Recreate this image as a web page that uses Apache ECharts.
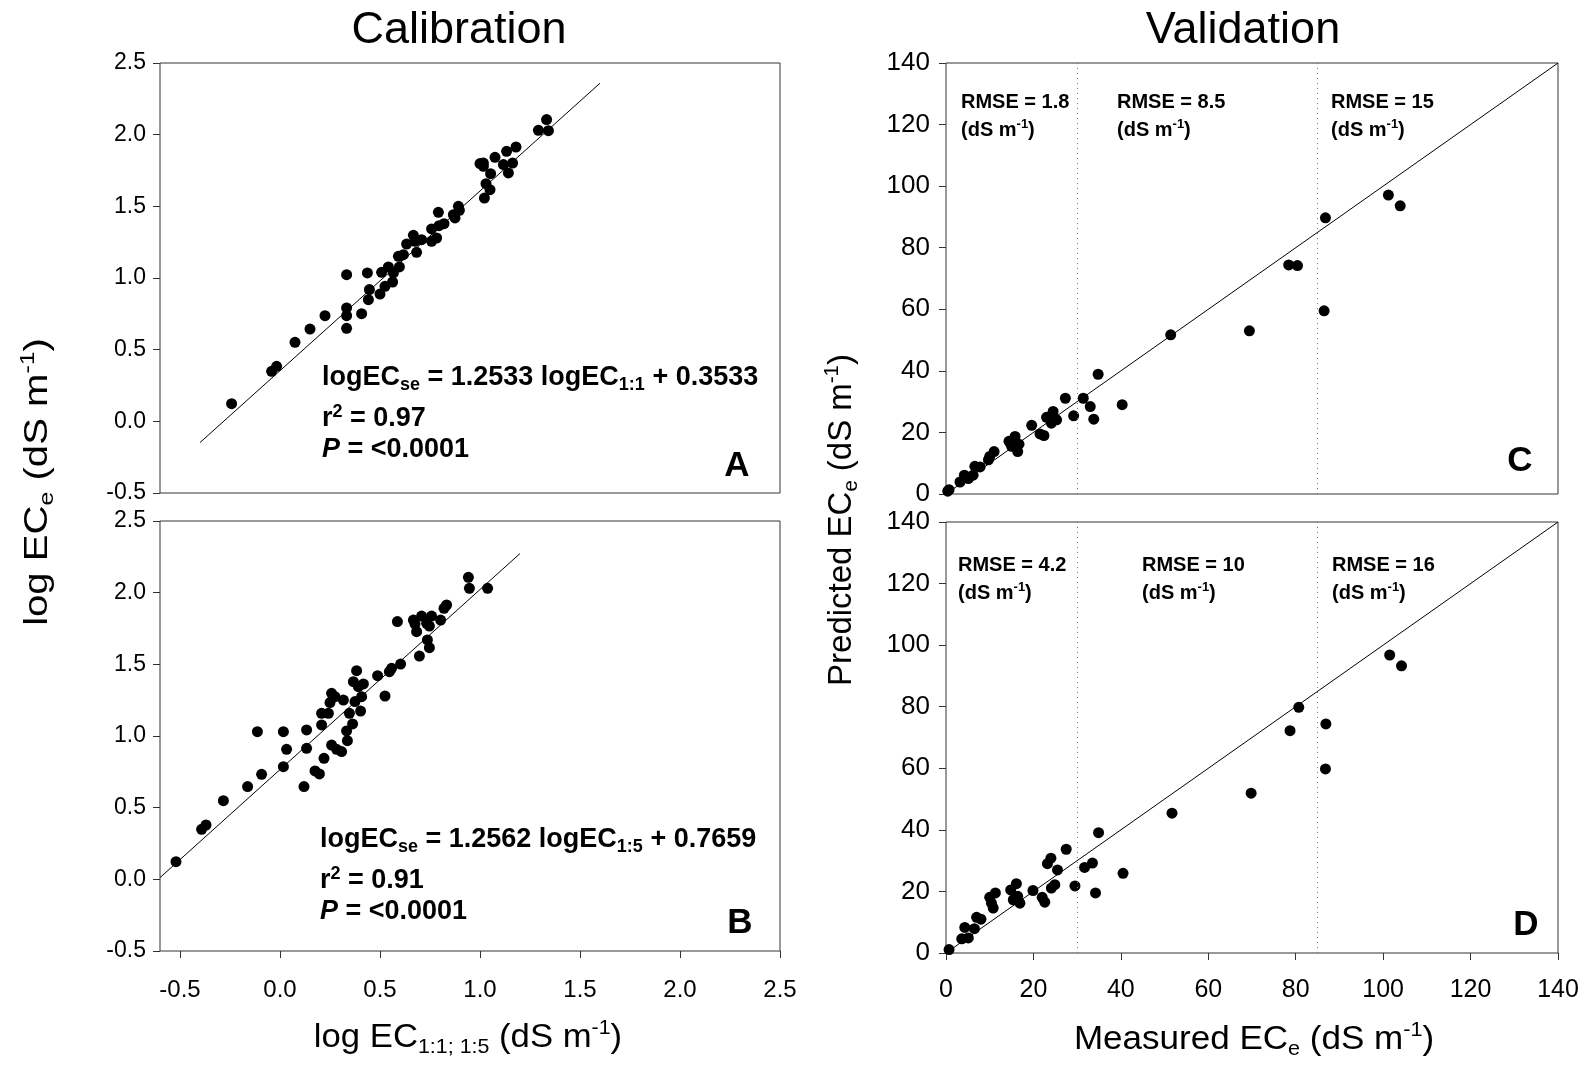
<!DOCTYPE html>
<html>
<head>
<meta charset="utf-8">
<script src="https://cdn.jsdelivr.net/npm/echarts@6/dist/echarts.min.js"></script>
<style>
html,body{margin:0;padding:0;background:#fff;}
#chart{width:1587px;height:1066px;}
</style>
</head>
<body>
<div id="chart"></div>
<script>
// ---- Panel A (calibration, 1:1) ----
var calAX = [-0.242,-0.042,-0.017,0.075,0.150,0.225,0.333,0.333,0.333,0.333,0.408,0.437,0.447,0.442,0.500,0.508,0.525,0.542,0.563,0.567,0.597,0.592,0.617,0.633,0.667,0.683,0.675,0.708,0.758,0.758,0.783,0.792,0.795,0.820,0.867,0.875,0.892,0.897,1.000,1.017,1.017,1.030,1.050,1.022,1.053,1.075,1.117,1.133,1.142,1.163,1.180,1.292,1.333,1.342];
var calAY = [0.123,0.349,0.384,0.551,0.644,0.737,1.023,0.791,0.737,0.649,0.751,1.035,0.919,0.849,0.888,1.040,0.942,1.077,0.972,1.035,1.077,1.151,1.163,1.237,1.298,1.179,1.256,1.267,1.256,1.342,1.279,1.458,1.365,1.379,1.442,1.419,1.500,1.472,1.798,1.802,1.779,1.658,1.616,1.558,1.728,1.842,1.791,1.884,1.733,1.802,1.914,2.030,2.105,2.028];
var fitAX = [-0.4, 1.6];
var fitAY = [-0.148, 2.359];

// ---- Panel B (calibration, 1:5) ----
var calBX = [-0.520,-0.392,-0.370,-0.283,-0.162,-0.113,-0.092,0.017,0.017,0.033,0.120,0.133,0.133,0.175,0.197,0.208,0.220,0.208,0.242,0.250,0.258,0.258,0.283,0.308,0.275,0.317,0.333,0.337,0.347,0.363,0.375,0.367,0.383,0.392,0.408,0.403,0.417,0.488,0.525,0.547,0.558,0.603,0.587,0.667,0.675,0.683,0.697,0.708,0.733,0.747,0.737,0.747,0.758,0.803,0.820,0.833,0.942,0.947,1.038];
var calBY = [0.123,0.349,0.379,0.549,0.647,1.030,0.733,1.030,0.786,0.907,0.647,1.042,0.914,0.756,0.735,1.077,0.844,1.158,1.158,1.233,1.298,0.937,0.907,0.891,1.274,1.251,1.035,0.967,1.158,1.084,1.240,1.379,1.456,1.344,1.274,1.174,1.363,1.421,1.279,1.449,1.472,1.502,1.798,1.809,1.781,1.728,1.558,1.837,1.786,1.767,1.670,1.616,1.837,1.809,1.891,1.914,2.107,2.030,2.030];
var fitBX = [-0.6, 1.2];
var fitBY = [0.012, 2.273];

// ---- Panel C (validation, 1:1) ----
var valCX = [0.4,0.7,3.2,4.2,5.1,6.2,6.6,7.8,9.7,10.0,11.0,14.4,15.8,15.0,16.4,16.7,19.6,21.5,22.4,23.0,24.1,24.5,25.3,27.3,29.2,31.4,33.0,33.8,34.8,40.3,51.4,69.4,78.4,80.4,86.8,86.5,101.2,103.9];
var valCY = [0.9,1.4,3.9,6.1,5.0,6.1,9.0,8.8,11.1,12.2,13.8,17.1,18.7,15.5,13.8,16.2,22.3,19.5,19.0,24.9,23.0,26.8,24.1,31.1,25.4,31.1,28.4,24.3,38.9,29.0,51.7,53.0,74.4,74.2,89.7,59.5,97.1,93.6];

// ---- Panel D (validation, 1:5) ----
var valDX = [0.7,3.6,5.1,4.3,6.5,7.0,8.0,10.0,10.4,10.8,11.3,14.8,16.1,15.4,16.4,16.9,19.9,22.0,22.6,23.2,24.0,24.1,24.9,25.5,27.5,29.5,31.7,33.5,34.2,34.9,40.5,51.7,69.8,78.7,80.7,86.9,86.8,101.5,104.2];
var valDY = [1.1,4.6,4.9,8.3,7.9,11.6,11.0,18.1,16.2,14.6,19.5,20.5,22.5,17.3,18.4,16.2,20.3,18.1,16.5,29.0,30.8,21.1,22.2,27.0,33.7,21.8,27.8,29.2,19.5,39.1,25.9,45.4,51.9,72.2,79.8,74.4,59.8,96.8,93.3];

var oneToOne = [0, 140];
var rangeBreaks = [30, 85];
var logTicks = [-0.5, 0.0, 0.5, 1.0, 1.5, 2.0, 2.5];
var rmseC = ['1.8', '8.5', '15'];
var rmseD = ['4.2', '10', '16'];

function zip(a, b) { return a.map(function (v, i) { return [v, b[i]]; }); }

var FONT = "'Liberation Sans', Arial, Helvetica, sans-serif";
var chart = echarts.init(document.getElementById('chart'), null, {renderer: 'canvas'});

function grid(l, t, w, h) {
  return {left: l, top: t, width: w, height: h, show: true, borderColor: '#333', borderWidth: 1, backgroundColor: 'transparent', containLabel: false};
}
var tickStyle = {show: true, inside: false, length: 7, lineStyle: {color: '#333', width: 1}};
var noLine = {show: false, onZero: false};
function logX(idx, labels) {
  return {type: 'value', gridIndex: idx, min: -0.6, max: 2.5, position: 'bottom',
    axisLine: noLine, splitLine: {show: false},
    axisTick: labels ? Object.assign({customValues: logTicks}, tickStyle) : {show: false},
    axisLabel: labels ? {show: true, customValues: logTicks, formatter: function (v) { return v.toFixed(1); }, fontFamily: FONT, fontSize: 24, color: '#000', margin: 27} : {show: false}};
}
function logY(idx) {
  return {type: 'value', gridIndex: idx, min: -0.5, max: 2.5, interval: 0.5, position: 'left',
    axisLine: noLine, splitLine: {show: false}, axisTick: tickStyle,
    axisLabel: {formatter: function (v) { return v.toFixed(1); }, fontFamily: FONT, fontSize: 23, color: '#000', margin: 14}};
}
function linX(idx, labels) {
  return {type: 'value', gridIndex: idx, min: 0, max: 140, interval: 20, position: 'bottom',
    axisLine: noLine, splitLine: {show: false},
    axisTick: labels ? tickStyle : {show: false},
    axisLabel: labels ? {fontFamily: FONT, fontSize: 25, color: '#000', margin: 25} : {show: false}};
}
function linY(idx) {
  return {type: 'value', gridIndex: idx, min: 0, max: 140, interval: 20, position: 'left',
    axisLine: noLine, splitLine: {show: false}, axisTick: tickStyle,
    axisLabel: {fontFamily: FONT, fontSize: 26, color: '#000', margin: 16}};
}
function scatter(idx, xs, ys, withBreaks) {
  var s = {type: 'scatter', xAxisIndex: idx, yAxisIndex: idx, data: zip(xs, ys), symbolSize: 11,
    itemStyle: {color: '#000', opacity: 1}, z: 3, silent: true};
  if (withBreaks) {
    s.markLine = {silent: true, symbol: ['none', 'none'], label: {show: false}, animation: false,
      lineStyle: {type: [1, 4], color: '#777', width: 1},
      data: rangeBreaks.map(function (v) { return {xAxis: v}; })};
  }
  return s;
}
function line(idx, xs, ys) {
  return {type: 'line', xAxisIndex: idx, yAxisIndex: idx, data: zip(xs, ys), symbol: 'none',
    lineStyle: {color: '#000', width: 1}, z: 2, silent: true};
}

var mainRich = {
  b: {fontFamily: FONT, fontSize: 27, fontWeight: 'bold', lineHeight: 32, fill: '#000', color: '#000'},
  i: {fontFamily: FONT, fontSize: 27, fontWeight: 'bold', fontStyle: 'italic', lineHeight: 32, fill: '#000', color: '#000'},
  s: {fontFamily: FONT, fontSize: 18, fontWeight: 'bold', lineHeight: 18, verticalAlign: 'bottom', fill: '#000', color: '#000'},
  p: {fontFamily: FONT, fontSize: 18, fontWeight: 'bold', lineHeight: 18, verticalAlign: 'top', fill: '#000', color: '#000'}
};
var rmseRich = {
  b: {fontFamily: FONT, fontSize: 20, fontWeight: 'bold', lineHeight: 24, fill: '#000', color: '#000'},
  p: {fontFamily: FONT, fontSize: 13, fontWeight: 'bold', lineHeight: 13, verticalAlign: 'top', fill: '#000', color: '#000'}
};
var axRich = {
  n: {fontFamily: FONT, fontSize: 34, lineHeight: 40, fill: '#000', color: '#000'},
  s: {fontFamily: FONT, fontSize: 21, lineHeight: 21, verticalAlign: 'bottom', fill: '#000', color: '#000'},
  p: {fontFamily: FONT, fontSize: 21, lineHeight: 21, verticalAlign: 'top', fill: '#000', color: '#000'}
};

function txt(x, y, text, rich, align, extra) {
  var el = {type: 'text', x: x, y: y, silent: true, z: 10,
    style: {text: text, rich: rich, fill: '#000', font: '20px ' + FONT,
      align: align || 'left', verticalAlign: 'middle', textAlign: align || 'left', textVerticalAlign: 'middle'}};
  if (extra) { for (var k in extra) { el[k] = extra[k]; } }
  return el;
}
function plain(x, y, text, size, weight, align) {
  return {type: 'text', x: x, y: y, silent: true, z: 10,
    style: {text: text, fill: '#000', font: (weight || 'normal') + ' ' + size + 'px ' + FONT,
      align: align || 'center', verticalAlign: 'middle', textAlign: align || 'center', textVerticalAlign: 'middle'}};
}

var graphics = [
  plain(459, 31, 'Calibration', 45, 'normal'),
  plain(1243, 31, 'Validation', 45, 'normal'),
  // equations panel A
  txt(322, 378, '{b|logEC}{s|se}{b| = 1.2533 logEC}{s|1:1}{b| + 0.3533}', mainRich),
  txt(322, 419, '{b|r}{p|2}{b| = 0.97}', mainRich),
  txt(322, 450, '{i|P}{b| = <0.0001}', mainRich),
  // equations panel B
  txt(320, 840, '{b|logEC}{s|se}{b| = 1.2562 logEC}{s|1:5}{b| + 0.7659}', mainRich),
  txt(320, 881, '{b|r}{p|2}{b| = 0.91}', mainRich),
  txt(320, 912, '{i|P}{b| = <0.0001}', mainRich),
  // panel letters
  plain(737, 466, 'A', 35, 'bold'),
  plain(740, 923, 'B', 35, 'bold'),
  plain(1520, 461, 'C', 35, 'bold'),
  plain(1526, 925, 'D', 35, 'bold'),
  // RMSE labels C
  txt(961, 102, '{b|RMSE = ' + rmseC[0] + '}', rmseRich),
  txt(961, 130, '{b|(dS m}{p|-1}{b|)}', rmseRich),
  txt(1117, 102, '{b|RMSE = ' + rmseC[1] + '}', rmseRich),
  txt(1117, 130, '{b|(dS m}{p|-1}{b|)}', rmseRich),
  txt(1331, 102, '{b|RMSE = ' + rmseC[2] + '}', rmseRich),
  txt(1331, 130, '{b|(dS m}{p|-1}{b|)}', rmseRich),
  // RMSE labels D
  txt(958, 565, '{b|RMSE = ' + rmseD[0] + '}', rmseRich),
  txt(958, 593, '{b|(dS m}{p|-1}{b|)}', rmseRich),
  txt(1142, 565, '{b|RMSE = ' + rmseD[1] + '}', rmseRich),
  txt(1142, 593, '{b|(dS m}{p|-1}{b|)}', rmseRich),
  txt(1332, 565, '{b|RMSE = ' + rmseD[2] + '}', rmseRich),
  txt(1332, 593, '{b|(dS m}{p|-1}{b|)}', rmseRich),
  // axis titles
  txt(38, 482, '{n|log EC}{s|e}{n| (dS m}{p|-1}{n|)}', axRich, 'center', {rotation: Math.PI / 2, scaleX: 1.18}),
  txt(468, 1038, '{n|log EC}{s|1:1; 1:5}{n| (dS m}{p|-1}{n|)}', axRich, 'center', {scaleX: 1.02}),
  txt(842, 520, '{n|Predicted EC}{s|e}{n| (dS m}{p|-1}{n|)}', axRich, 'center', {rotation: Math.PI / 2, scaleX: 0.97}),
  txt(1254, 1040, '{n|Measured EC}{s|e}{n| (dS m}{p|-1}{n|)}', axRich, 'center', {scaleX: 1.03})
];

var option = {
  animation: false,
  backgroundColor: '#fff',
  grid: [grid(160, 63, 620, 430), grid(160, 521, 620, 430), grid(946, 63, 612, 431), grid(946, 522, 612, 431)],
  xAxis: [logX(0, false), logX(1, true), linX(2, false), linX(3, true)],
  yAxis: [logY(0), logY(1), linY(2), linY(3)],
  series: [
    scatter(0, calAX, calAY, false), line(0, fitAX, fitAY),
    scatter(1, calBX, calBY, false), line(1, fitBX, fitBY),
    scatter(2, valCX, valCY, true), line(2, oneToOne, oneToOne),
    scatter(3, valDX, valDY, true), line(3, oneToOne, oneToOne)
  ],
  graphic: graphics
};
chart.setOption(option);
</script>
</body>
</html>
